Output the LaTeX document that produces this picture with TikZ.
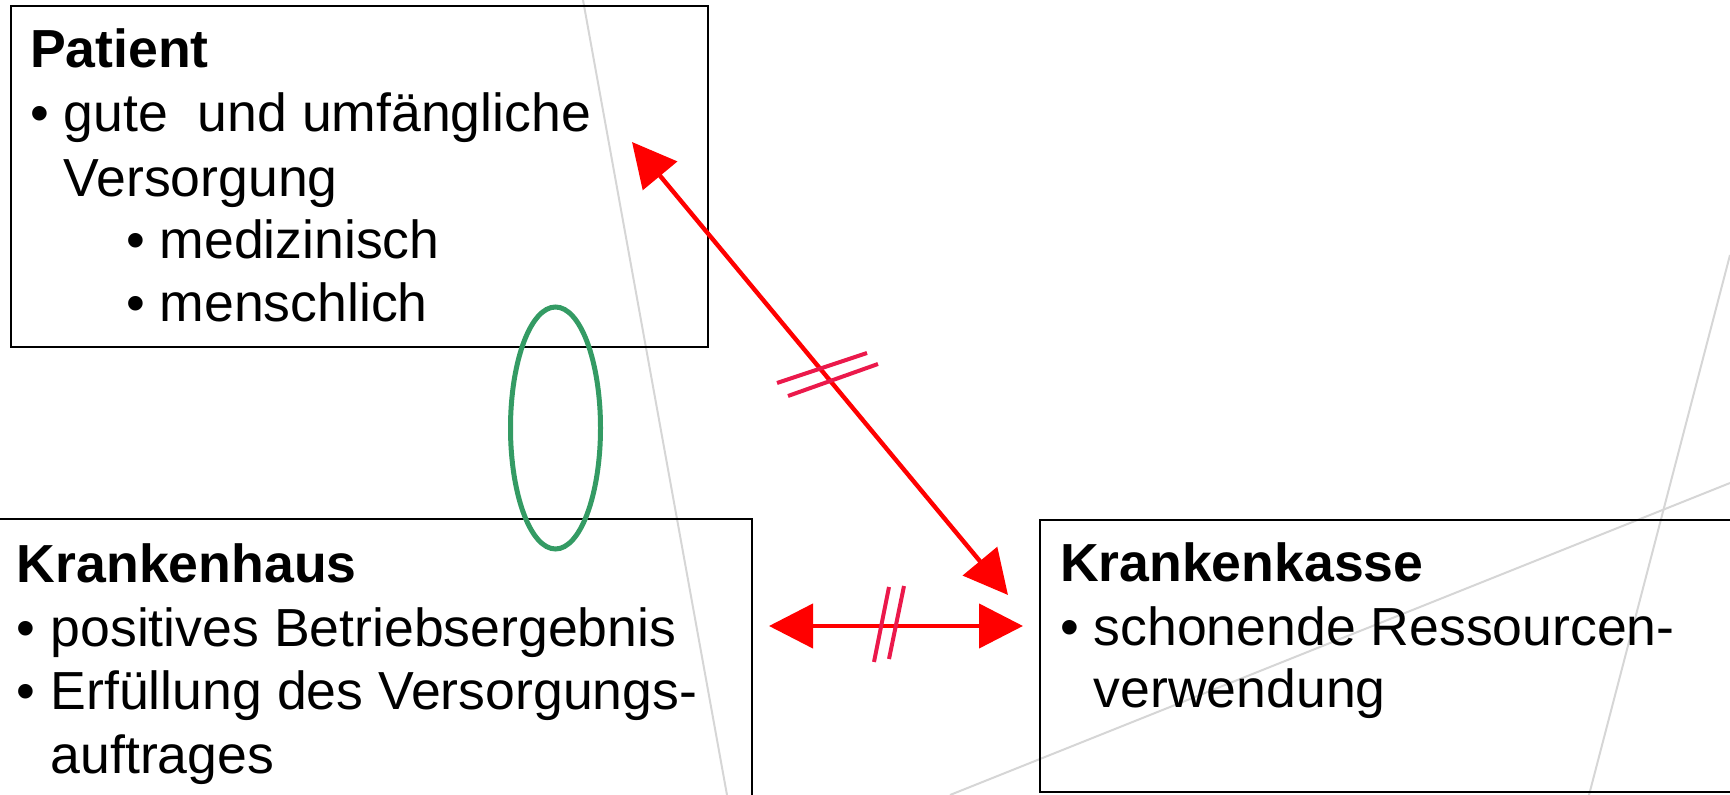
\documentclass[tikz,border=0pt]{standalone}
\usepackage{fontspec}
\setmainfont{Liberation Sans}
\usetikzlibrary{arrows.meta}
\definecolor{bgline}{RGB}{214,214,214}
\definecolor{ovalgreen}{RGB}{52,155,100}
\definecolor{tickred}{RGB}{235,25,75}
\newcommand{\bulletgap}{\hphantom{•\ }}
\begin{document}
\begin{tikzpicture}[x=0.5pt,y=-0.5pt,
  box/.style={draw=black,line width=1pt,inner sep=0pt,outer sep=0pt},
  txt/.style={anchor=base west,inner sep=0pt,outer sep=0pt,
    font=\fontsize{26.8pt}{32pt}\selectfont},
  ttl/.style={txt,font=\fontsize{26.8pt}{32pt}\selectfont\bfseries},
  relarrow/.style={red,line width=2.2pt,
    {Triangle[length=22pt,width=22pt]}-{Triangle[length=22pt,width=22pt]}},
  tick/.style={tickred,line width=2pt},
  bg/.style={bgline,line width=1pt}]

\useasboundingbox (0,0) rectangle (1730,795);
\clip (0,0) rectangle (1730,795);

% faint background strokes
\draw[bg] (583,0) -- (727,795);
\draw[bg] (1730,255) -- (1589,795);
\draw[bg] (950,795) -- (1730,483);

% the three parties
\node[box,minimum width=348.5pt,minimum height=170.5pt] (patient) at (359.5,176.5) {};
\node[box,minimum width=381pt,minimum height=145.5pt] (haus) at (371,664.5) {};
\node[box,minimum width=352.5pt,minimum height=136pt] (kasse) at (1392.5,656) {};

% Patient
\node[ttl] (p0) at (30,68) {Patient};
\node[txt] (p1) at (30,132) {•\ gute\ \ und umfängliche};
\node[txt] (p2) at (30,196.5) {\bulletgap Versorgung};
\node[txt] (p3) at (126,259) {•\ medizinisch};
\node[txt] (p4) at (126,322) {•\ menschlich};

% Krankenhaus
\node[ttl] (h0) at (17,583) {Krankenhaus};
\node[txt] (h1) at (17,646.5) {•\ positives Betriebsergebnis};
\node[txt] (h2) at (17,710) {•\ Erfüllung des Versorgungs-};
\node[txt] (h3) at (17,773.5) {\bulletgap auftrages};

% Krankenkasse
\node[ttl] (k0) at (1060,582) {Krankenkasse};
\node[txt] (k1) at (1060,646) {•\ schonende Ressourcen-};
\node[txt] (k2) at (1060,708) {\bulletgap verwendung};

% common interest of patient and hospital
\draw[ovalgreen,line width=2.5pt] (555.5,428) ellipse [x radius=22.5pt,y radius=60.5pt];

% conflicting relations
\coordinate (pa) at (632,142);
\coordinate (ka) at (1008,595);
\coordinate (hb) at (769,626);
\coordinate (kb) at (1023,626);
\draw[relarrow] (pa) -- (ka);
\draw[relarrow] (hb) -- (kb);

% break marks
\draw[tick] (777,383) -- (867,353);
\draw[tick] (788,396) -- (878,364);
\draw[tick] (889,587) -- (874,662);
\draw[tick] (904,586) -- (889,659);
\end{tikzpicture}
\end{document}
